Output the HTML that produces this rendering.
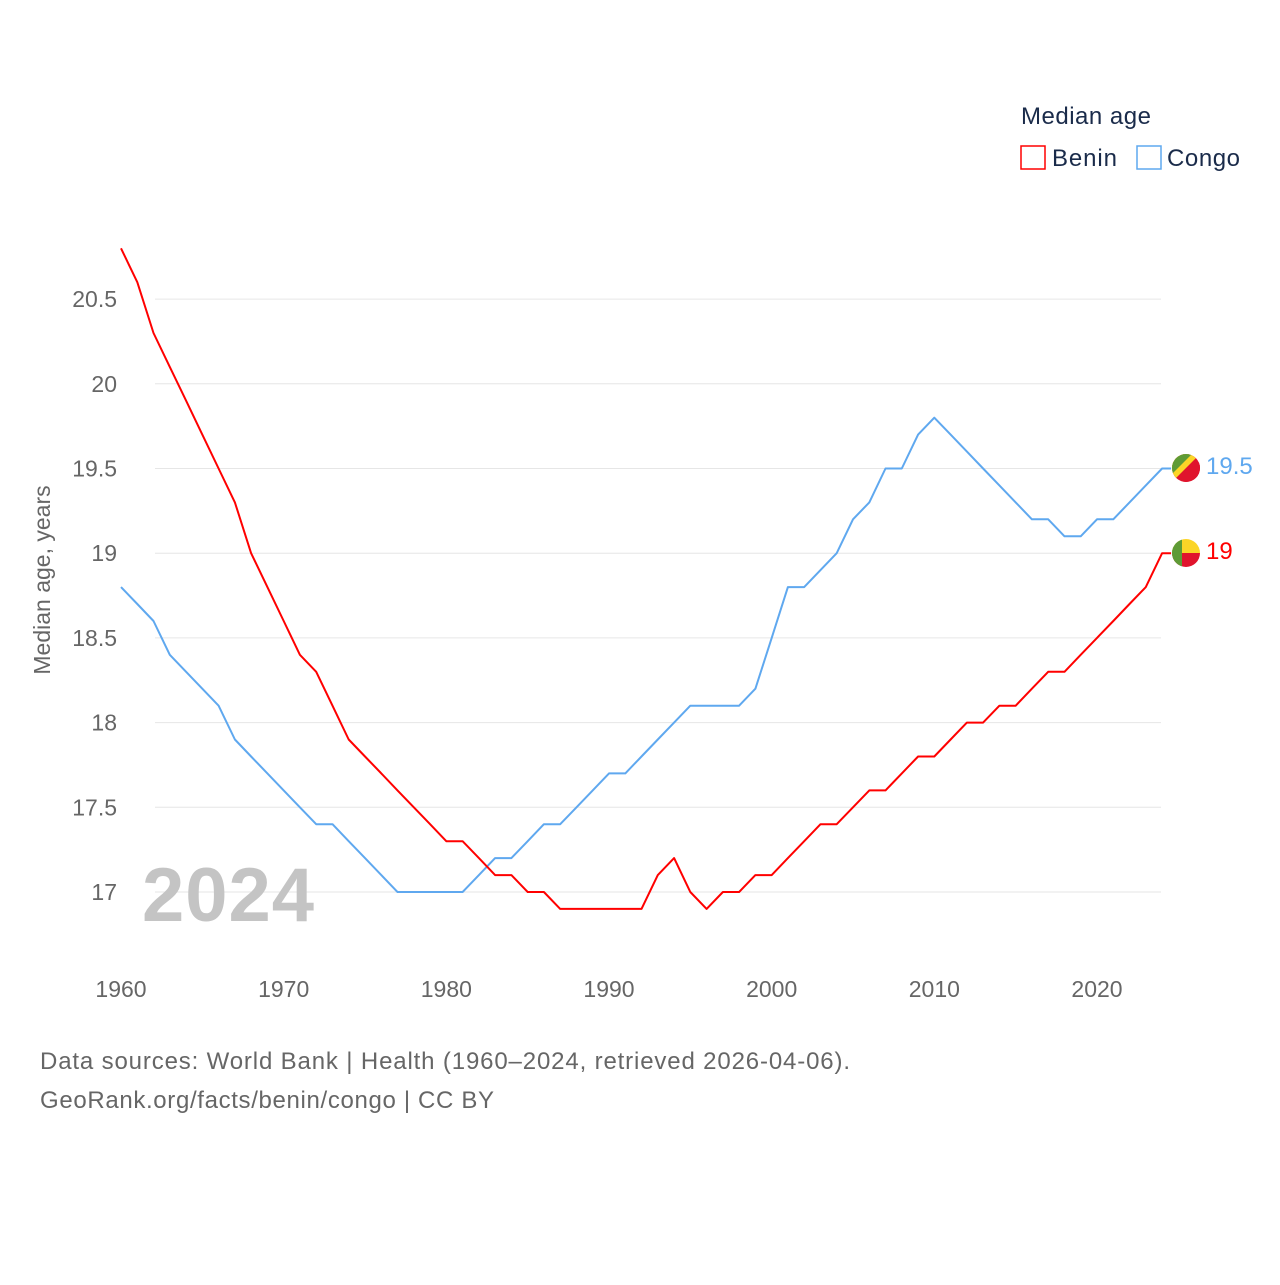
<!DOCTYPE html>
<html><head><meta charset="utf-8"><style>
body{margin:0;background:#fff;font-family:"Liberation Sans",sans-serif}
svg text{font-family:"Liberation Sans",sans-serif}
</style></head><body>
<svg id="chart" width="1280" height="1280" xmlns="http://www.w3.org/2000/svg">
<text x="1021" y="124" font-size="24" fill="#1a2b4a" textLength="130">Median age</text>
<g><rect x="1021" y="146" width="24" height="23" fill="none" stroke="#f00" stroke-width="1.5"/><text x="1052" y="166" font-size="24" fill="#1a2b4a" textLength="65">Benin</text></g>
<g><rect x="1137" y="146" width="24" height="23" fill="none" stroke="#5fa8ef" stroke-width="1.5"/><text x="1167" y="166" font-size="24" fill="#1a2b4a" textLength="73">Congo</text></g>
<g id="grid"></g><g id="yticks"></g><g id="xticks"></g>
<text x="142" y="921" font-size="76" font-weight="bold" fill="#c4c4c4" textLength="172">2024</text>
<text transform="translate(50,580) rotate(-90)" text-anchor="middle" font-size="23" fill="#666">Median age, years</text>
<g id="lines"></g>
<g>
<clipPath id="c1"><circle cx="1186" cy="468" r="14"/></clipPath>
<g clip-path="url(#c1)"><rect x="1170" y="452" width="32" height="32" fill="#e0142d"/><polygon points="1170,452 1202,452 1170,484" fill="#fbd527"/><polygon points="1170,452 1194,452 1170,476" fill="#5e9b36"/><polygon points="1202,460 1202,484 1178,484" fill="#e0142d"/></g></g>
<g>
<clipPath id="c2"><circle cx="1186" cy="553" r="14"/></clipPath>
<g clip-path="url(#c2)"><rect x="1170" y="537" width="32" height="16" fill="#fbd527"/><rect x="1170" y="553" width="32" height="16" fill="#e0142d"/><rect x="1170" y="537" width="12" height="32" fill="#5e9b36"/></g></g>
<text x="1206" y="474" font-size="24" fill="#5fa8ef">19.5</text>
<text x="1206" y="559" font-size="24" fill="#f00">19</text>
<text x="40" y="1069" font-size="24" fill="#666" textLength="810">Data sources: World Bank | Health (1960–2024, retrieved 2026-04-06).</text>
<text x="40" y="1108" font-size="24" fill="#666" textLength="454">GeoRank.org/facts/benin/congo | CC BY</text>
</svg>
<script>
const years=[];for(let y=1960;y<=2024;y++)years.push(y);
const benin=[20.8,20.6,20.3,20.1,19.9,19.7,19.5,19.3,19.0,18.8,18.6,18.4,18.3,18.1,17.9,17.8,17.7,17.6,17.5,17.4,17.3,17.3,17.2,17.1,17.1,17.0,17.0,16.9,16.9,16.9,16.9,16.9,16.9,17.1,17.2,17.0,16.9,17.0,17.0,17.1,17.1,17.2,17.3,17.4,17.4,17.5,17.6,17.6,17.7,17.8,17.8,17.9,18.0,18.0,18.1,18.1,18.2,18.3,18.3,18.4,18.5,18.6,18.7,18.8,19.0];
const congo=[18.8,18.7,18.6,18.4,18.3,18.2,18.1,17.9,17.8,17.7,17.6,17.5,17.4,17.4,17.3,17.2,17.1,17.0,17.0,17.0,17.0,17.0,17.1,17.2,17.2,17.3,17.4,17.4,17.5,17.6,17.7,17.7,17.8,17.9,18.0,18.1,18.1,18.1,18.1,18.2,18.5,18.8,18.8,18.9,19.0,19.2,19.3,19.5,19.5,19.7,19.8,19.7,19.6,19.5,19.4,19.3,19.2,19.2,19.1,19.1,19.2,19.2,19.3,19.4,19.5];
const yTicks=[17,17.5,18,18.5,19,19.5,20,20.5];
const xTicks=[1960,1970,1980,1990,2000,2010,2020];
const NS="http://www.w3.org/2000/svg";
const X=y=>121+(y-1960)*976/60;
const Y=v=>892-(v-17)*169.4;
function mk(t,a,p){const e=document.createElementNS(NS,t);for(const k in a)e.setAttribute(k,a[k]);p.appendChild(e);return e;}
const grid=document.getElementById('grid'),yt=document.getElementById('yticks'),xt=document.getElementById('xticks'),lines=document.getElementById('lines');
yTicks.forEach(v=>{
const l=mk('line',{x1:155,x2:1161,y1:Y(v),y2:Y(v),stroke:'#e6e6e6','stroke-width':1},grid);


const t=mk('text',{x:117,y:Y(v)+8,'text-anchor':'end','font-size':23,fill:'#666'},yt);
t.textContent=String(v);


});
xTicks.forEach(v=>{
const t=mk('text',{x:X(v),y:997,'text-anchor':'middle','font-size':23,fill:'#666'},xt);
t.textContent=String(v);


});
function line(d,c,n){
let s=d.map((v,i)=>(i?'L':'M')+X(years[i]).toFixed(1)+','+Y(v).toFixed(1)).join('');
s+='L'+(X(years[years.length-1])+9).toFixed(1)+','+Y(d[d.length-1]).toFixed(1);
const p=mk('path',{d:s,fill:'none',stroke:c,'stroke-width':2,'stroke-linejoin':'round'},lines);


}
line(congo,'#5fa8ef','congo-line');
line(benin,'#f00','benin-line');
</script>
</body></html>
